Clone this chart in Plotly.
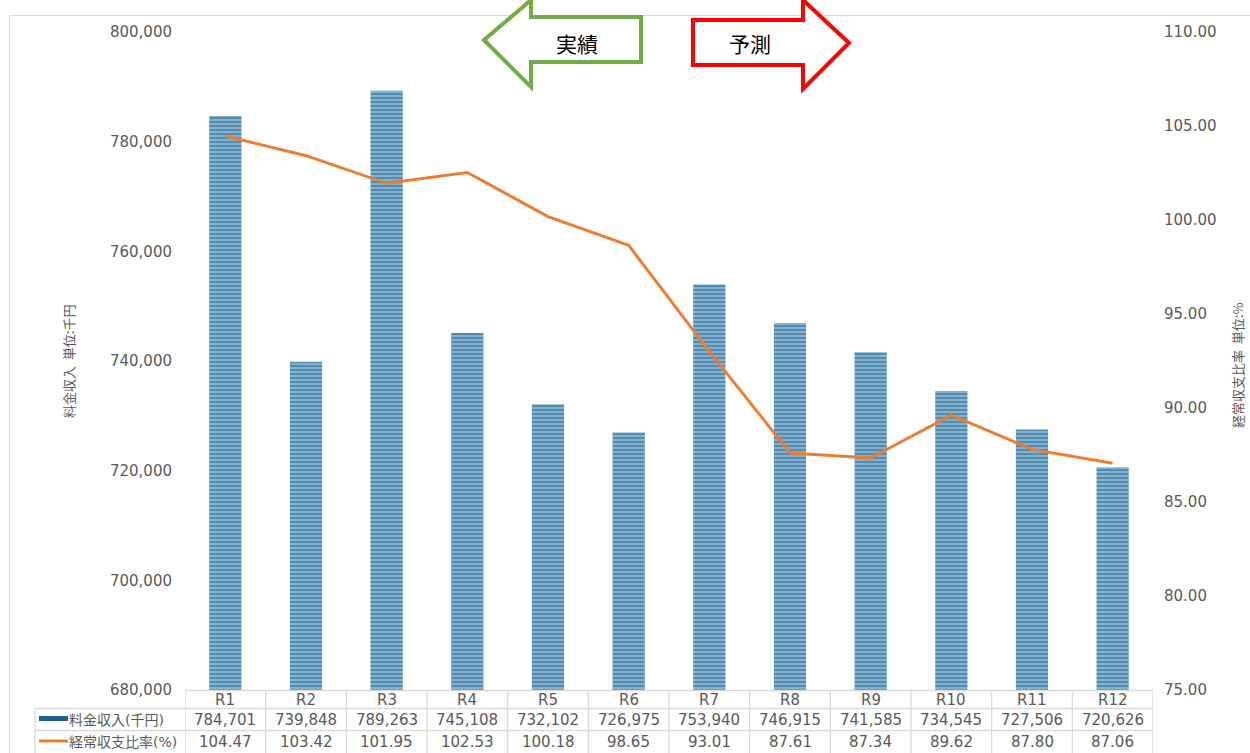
import plotly.graph_objects as go

categories = ["R1", "R2", "R3", "R4", "R5", "R6", "R7", "R8", "R9", "R10", "R11", "R12"]
revenue = [784701, 739848, 789263, 745108, 732102, 726975, 753940, 746915, 741585, 734545, 727506, 720626]
ratio = [104.47, 103.42, 101.95, 102.53, 100.18, 98.65, 93.01, 87.61, 87.34, 89.62, 87.80, 87.06]
series_names = ["料金収入(千円)", "経常収支比率(%)"]
left_title = "料金収入  単位:千円"
right_title = "経常収支比率  単位:%"
actual_label = "実績"
forecast_label = "予測"

W, H = 1250, 753
L, R, T, B = 185, 1153, 32, 690
PW, PH = R - L, B - T
FONT = "DejaVu Sans, Noto Sans CJK JP"
CJK = "Noto Sans CJK JP"
GRAY = "#595959"
LINE = "#d9d9d9"
BLUE = "#235f8a"
ORANGE = "#ED7D31"


def px(x):
    return (x - L) / PW


def py(y):
    return (B - y) / PH


fig = go.Figure()
fig.add_trace(go.Bar(
    x=list(range(len(categories))), y=revenue, name=series_names[0],
    marker=dict(color="#86b6d3", line=dict(width=0),
                pattern=dict(shape="-", fgcolor=BLUE, bgcolor="#86b6d3", size=4, solidity=0.55)),
    yaxis="y", showlegend=False,
))
fig.add_trace(go.Scatter(
    x=list(range(len(categories))), y=ratio, name=series_names[1], mode="lines",
    line=dict(color=ORANGE, width=3), yaxis="y2", showlegend=False,
))

shapes = []
annotations = []

# chart border
shapes.append(dict(type="rect", xref="paper", yref="paper", x0=px(9.5), x1=px(1260), y0=py(15.5), y1=py(770),
                   line=dict(color=LINE, width=1), fillcolor="rgba(0,0,0,0)", layer="below"))

# data table lines
row_lines = [690.5, 708.5, 730.5]
shapes.append(dict(type="line", xref="paper", yref="paper", x0=px(L), x1=px(R), y0=py(row_lines[0]), y1=py(row_lines[0]),
                   line=dict(color=LINE, width=1.3)))
for yl in row_lines[1:]:
    shapes.append(dict(type="line", xref="paper", yref="paper", x0=px(35), x1=px(R), y0=py(yl), y1=py(yl),
                       line=dict(color=LINE, width=1.3)))
shapes.append(dict(type="line", xref="paper", yref="paper", x0=px(35), x1=px(35), y0=py(708.5), y1=py(760),
                   line=dict(color=LINE, width=1.3)))
for i in range(len(categories) + 1):
    shapes.append(dict(type="line", xref="x", yref="paper", x0=i - 0.5, x1=i - 0.5, y0=py(690.5), y1=py(760),
                       line=dict(color=LINE, width=1.3)))

row_y = [699.5, 720, 742]
for i, c in enumerate(categories):
    for r, txt in enumerate([c, f"{revenue[i]:,}", f"{ratio[i]:.2f}"]):
        annotations.append(dict(x=i, y=py(row_y[r]), xref="x", yref="paper", text=txt, showarrow=False,
                                xanchor="center", yanchor="middle",
                                font=dict(size=15, color=GRAY, family=FONT)))

# legend keys in table
shapes.append(dict(type="line", xref="paper", yref="paper", x0=px(39), x1=px(68), y0=py(718.5), y1=py(718.5),
                   line=dict(color=BLUE, width=5)))
shapes.append(dict(type="line", xref="paper", yref="paper", x0=px(39), x1=px(68), y0=py(741), y1=py(741),
                   line=dict(color=ORANGE, width=3)))
for k, name in enumerate(series_names):
    annotations.append(dict(x=px(67), y=py(row_y[k + 1]), xref="paper", yref="paper", text=name, showarrow=False,
                            xanchor="left", yanchor="middle", font=dict(size=14, color=GRAY, family=FONT)))

# axis titles
annotations.append(dict(x=px(68), y=py(362), xref="paper", yref="paper", text=left_title, showarrow=False,
                        xanchor="center", yanchor="middle",
                        textangle=-90, font=dict(size=13, color=GRAY, family=CJK)))
annotations.append(dict(x=px(1237), y=py(366), xref="paper", yref="paper", text=right_title, showarrow=False,
                        xanchor="center", yanchor="middle",
                        textangle=-90, font=dict(size=13, color=GRAY, family=CJK)))


def path(points):
    return "M " + " L ".join(f"{px(x):.5f},{py(y):.5f}" for x, y in points) + " Z"


green_pts = [(484, 40), (531, 0), (531, 17), (641, 17), (641, 62), (531, 62), (531, 87)]
red_pts = [(849, 43), (803, 0), (803, 20), (693, 20), (693, 65), (803, 65), (803, 89)]
shapes.append(dict(type="path", xref="paper", yref="paper", path=path(green_pts),
                   line=dict(color="#70AD47", width=4), fillcolor="white"))
shapes.append(dict(type="path", xref="paper", yref="paper", path=path(red_pts),
                   line=dict(color="#FF0000", width=4), fillcolor="white"))
annotations.append(dict(x=px(577), y=py(43), xref="paper", yref="paper", text=actual_label, showarrow=False,
                        xanchor="center", yanchor="middle",
                        font=dict(size=21, color="black", family=CJK)))
annotations.append(dict(x=px(750), y=py(43), xref="paper", yref="paper", text=forecast_label, showarrow=False,
                        xanchor="center", yanchor="middle",
                        font=dict(size=21, color="black", family=CJK)))

fig.update_layout(
    width=W, height=H,
    margin=dict(l=L, r=W - R, t=T, b=H - B, pad=0),
    paper_bgcolor="white", plot_bgcolor="white",
    bargap=0.6,
    xaxis=dict(range=[-0.5, len(categories) - 0.5], showticklabels=False, showgrid=False, zeroline=False,
               showline=False, ticks=""),
    yaxis=dict(range=[680000, 800000], dtick=20000, tickformat=",d", showgrid=False, zeroline=False,
               showline=False, ticks="", ticklabelstandoff=12,
               tickfont=dict(size=15, color=GRAY, family=FONT)),
    yaxis2=dict(range=[75, 110], dtick=5, tickformat=".2f", overlaying="y", side="right", showgrid=False,
                zeroline=False, showline=False, ticks="", ticklabelstandoff=10,
                tickfont=dict(size=15, color=GRAY, family=FONT)),
    shapes=shapes,
    annotations=annotations,
    showlegend=False,
)

fig.write_html("out.html", config={"displayModeBar": False},
               post_script="document.body.style.margin='0';document.body.style.overflow='hidden';")
